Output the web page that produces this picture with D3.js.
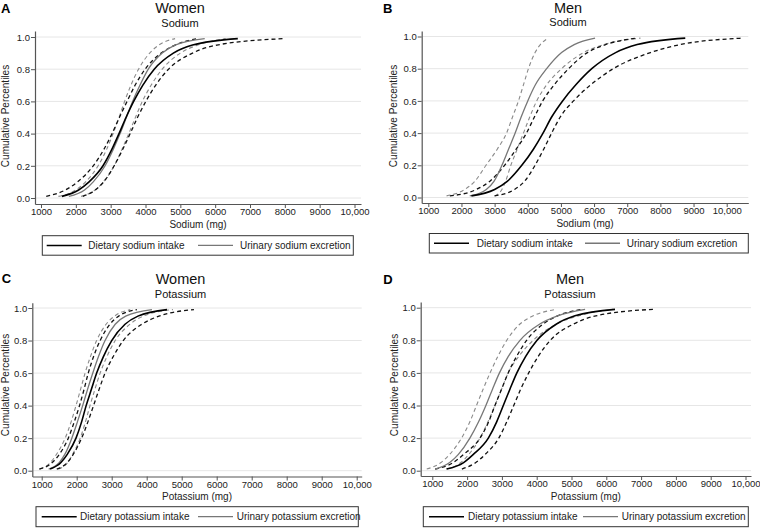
<!DOCTYPE html>
<html><head><meta charset="utf-8">
<script src="https://cdn.jsdelivr.net/npm/d3@7"></script>
<style>
html,body{margin:0;padding:0;background:#fff;}
svg{display:block;font-family:Arial,"Liberation Sans",Helvetica,sans-serif;}
</style></head>
<body><svg id="c" width="760" height="528"></svg>
<script>
// ---------- data ----------
const percentiles = [0.01,0.05,0.1,0.2,0.3,0.4,0.5,0.6,0.7,0.8,0.9,0.95,0.99];
const yTicks = [0,0.2,0.4,0.6,0.8,1.0];
const yTickLabels = ["0.0","0.2","0.4","0.6","0.8","1.0"];
const xTicks = [1000,2000,3000,4000,5000,6000,7000,8000,9000,10000];
const xTickLabels = ["1000","2000","3000","4000","5000","6000","7000","8000","9000","10,000"];

// A: Women, sodium (mg)
const womenSodiumDiet   = [1600,2080,2380,2780,3030,3240,3440,3660,3920,4250,4800,5350,6650];
const womenSodiumDietLo = [1150,1700,2050,2500,2800,3040,3250,3470,3700,3990,4450,4850,5500];
const womenSodiumDietHi = [2200,2560,2800,3100,3340,3560,3770,4010,4290,4660,5350,6050,8000];
const womenSodiumUrin   = [1800,2250,2500,2840,3070,3270,3450,3630,3840,4080,4480,4850,5700];
const womenSodiumUrinLo = [1500,2000,2280,2640,2880,3070,3240,3400,3580,3800,4120,4380,4850];
const womenSodiumUrinHi = [2150,2550,2790,3100,3320,3520,3710,3910,4160,4480,5000,5500,6300];

// B: Men, sodium (mg)
const menSodiumDiet   = [2300,3000,3380,3820,4170,4460,4720,5050,5450,5930,6650,7300,8750];
const menSodiumDietLo = [1650,2450,2850,3300,3650,3960,4200,4450,4800,5230,5800,6350,7300];
const menSodiumDietHi = [3000,3600,3900,4220,4480,4720,4980,5380,5900,6580,7700,8600,10500];
const menSodiumUrin   = [2250,2750,2980,3220,3420,3620,3800,4000,4230,4570,5020,5400,6030];
const menSodiumUrinLo = [1550,2100,2400,2740,3080,3360,3540,3720,3870,4020,4220,4380,4620];
const menSodiumUrinHi = [3000,3220,3330,3490,3680,3870,4060,4270,4570,5020,5680,6300,7400];

// C: Women, potassium (mg)
const womenPotassiumDiet   = [1240,1550,1730,1980,2140,2270,2420,2570,2760,3000,3380,3750,4580];
const womenPotassiumDietLo = [930,1300,1500,1760,1930,2080,2210,2330,2480,2670,2950,3200,3720];
const womenPotassiumDietHi = [1430,1730,1900,2140,2320,2480,2640,2810,3040,3330,3860,4350,5350];
const womenPotassiumUrin   = [1200,1500,1660,1860,2020,2170,2310,2460,2620,2810,3100,3400,4150];
const womenPotassiumUrinLo = [950,1250,1420,1670,1840,1980,2110,2240,2390,2570,2840,3080,3530];
const womenPotassiumUrinHi = [1480,1740,1880,2100,2250,2380,2520,2670,2860,3100,3520,3900,4750];

// D: Men, potassium (mg)
const menPotassiumDiet   = [1410,1900,2180,2610,2850,3040,3230,3430,3680,4010,4570,5100,6250];
const menPotassiumDietLo = [1080,1600,1900,2370,2620,2800,2990,3180,3420,3710,4190,4600,5300];
const menPotassiumDietHi = [1850,2250,2520,2910,3140,3340,3540,3770,4040,4390,5060,5700,7350];
const menPotassiumUrin   = [1080,1500,1750,2080,2330,2540,2730,2930,3180,3520,4090,4600,5390];
const menPotassiumUrinLo = [840,1250,1500,1840,2080,2270,2460,2660,2880,3140,3520,3900,4570];
const menPotassiumUrinHi = [1410,1820,2050,2370,2600,2800,2990,3180,3480,3900,4570,5200,6200];

const panelLetters = ["A","B","C","D"];
const panelTitles = ["Women","Men","Women","Men"];
const panelSubtitles = ["Sodium","Sodium","Potassium","Potassium"];
const xTitles = ["Sodium (mg)","Sodium (mg)","Potassium (mg)","Potassium (mg)"];
const legendDiet = ["Dietary sodium intake","Dietary sodium intake","Dietary potassium intake","Dietary potassium intake"];
const legendUrin = ["Urinary sodium excretion","Urinary sodium excretion","Urinary potassium excretion","Urinary potassium excretion"];
const yTitle = "Cumulative Percentiles";

const panelData = [
  {diet:womenSodiumDiet, dietLo:womenSodiumDietLo, dietHi:womenSodiumDietHi, urin:womenSodiumUrin, urinLo:womenSodiumUrinLo, urinHi:womenSodiumUrinHi},
  {diet:menSodiumDiet, dietLo:menSodiumDietLo, dietHi:menSodiumDietHi, urin:menSodiumUrin, urinLo:menSodiumUrinLo, urinHi:menSodiumUrinHi},
  {diet:womenPotassiumDiet, dietLo:womenPotassiumDietLo, dietHi:womenPotassiumDietHi, urin:womenPotassiumUrin, urinLo:womenPotassiumUrinLo, urinHi:womenPotassiumUrinHi},
  {diet:menPotassiumDiet, dietLo:menPotassiumDietLo, dietHi:menPotassiumDietHi, urin:menPotassiumUrin, urinLo:menPotassiumUrinLo, urinHi:menPotassiumUrinHi}
];

// ---------- layout ----------
const layout = [
  {t1:41,   t10:354.5, x0:35,    x1:361,   axY:204,   py1:37,    py0:198,   yTop:31,
   letterX:1, letterY:13.3, titleX:180, titleY:13, subY:26.5, yLabX:9, yLabY:116,
   leg:{x:42.3, y:235.7, w:311, h:19.5, l1:46.7, t1:88.3, l2:198, t2:240}},
  {t1:428.3, t10:726.7, x0:421.7, x1:748.3, axY:203, py1:36.5, py0:197.5, yTop:31,
   letterX:383, letterY:13.3, titleX:568, titleY:12.5, subY:26, yLabX:397, yLabY:116,
   leg:{x:429.3, y:233.5, w:319, h:19.5, l1:434, t1:476.7, l2:585, t2:626.7}},
  {t1:41.7, t10:356.7, x0:32.3,  x1:361.7, axY:476.5, py1:308,   py0:470.7, yTop:302.7,
   letterX:1.7, letterY:282.7, titleX:180.5, titleY:284, subY:298.4, yLabX:9, yLabY:385,
   leg:{x:36, y:506.7, w:322.3, h:20, l1:41.7, t1:80, l2:198, t2:236.7}},
  {t1:432.3, t10:745.5, x0:420.7, x1:751,  axY:476,   py1:307.7, py0:470.7, yTop:302,
   letterX:383.3, letterY:284, titleX:570, titleY:284, subY:298.2, yLabX:397.5, yLabY:385,
   leg:{x:423.3, y:506.7, w:325, h:20, l1:429, t1:468, l2:583, t2:621.7}}
];

const svg = d3.select("#c");

layout.forEach((L, i) => {
  const g = svg.append("g");
  const d = panelData[i];

  const base = d3.scaleLinear().domain([1000,10000]).range([L.t1, L.t10]);
  const x = d3.scaleLinear().domain([base.invert(L.x0), base.invert(L.x1)]).range([L.x0, L.x1]);
  const yb = d3.scaleLinear().domain([0,1]).range([L.py0, L.py1]);
  const y = d3.scaleLinear().domain([yb.invert(L.axY), yb.invert(L.yTop)]).range([L.axY, L.yTop]);

  // gridlines
  g.append("g").selectAll("line").data(yTicks).join("line")
    .attr("x1", L.x0 + 1).attr("x2", L.x1)
    .attr("y1", v => y(v)).attr("y2", v => y(v))
    .attr("stroke", "#e6e6e6").attr("stroke-width", 1);

  // axes
  const xAxis = d3.axisBottom(x).tickValues(xTicks).tickSize(4).tickSizeOuter(0)
    .tickFormat((v, k) => xTickLabels[k]);
  const gx = g.append("g").attr("transform", `translate(0,${L.axY})`).call(xAxis);
  const yAxis = d3.axisLeft(y).tickValues(yTicks).tickSize(4).tickSizeOuter(0)
    .tickFormat((v, k) => yTickLabels[k]);
  const gy = g.append("g").attr("transform", `translate(${L.x0},0)`).call(yAxis);
  [gx, gy].forEach(a => {
    a.select(".domain").attr("stroke", "#555").attr("stroke-width", 1.2);
    a.selectAll(".tick line").attr("stroke", "#555");
    a.selectAll(".tick text").attr("fill", "#222").style("font-size", "9.5px")
      .style("font-family", "Arial, 'Liberation Sans', sans-serif");
  });
  gx.selectAll(".tick text").attr("y", 4.5).attr("dy", "0.71em");
  gy.selectAll(".tick text").attr("x", -5).attr("dy", "0.34em");

  // axis titles
  g.append("text").attr("x", (L.x0 + L.x1) / 2).attr("y", L.axY + 23.5)
    .attr("text-anchor", "middle").style("font-size", "10px").attr("fill", "#222")
    .text(xTitles[i]);
  g.append("text").attr("transform", `translate(${L.yLabX},${L.yLabY}) rotate(-90)`)
    .attr("text-anchor", "middle").style("font-size", "10px").attr("fill", "#222")
    .text(yTitle);

  // titles
  g.append("text").attr("x", L.letterX).attr("y", L.letterY)
    .style("font-size", "13px").style("font-weight", "bold").attr("fill", "#000")
    .text(panelLetters[i]);
  g.append("text").attr("x", L.titleX).attr("y", L.titleY).attr("text-anchor", "middle")
    .style("font-size", "14.5px").attr("fill", "#111").text(panelTitles[i]);
  g.append("text").attr("x", L.titleX).attr("y", L.subY).attr("text-anchor", "middle")
    .style("font-size", "11px").attr("fill", "#111").text(panelSubtitles[i]);

  // curves
  const line = d3.line().x(p => x(p[0])).y(p => y(p[1])).curve(d3.curveMonotoneX);
  const pts = arr => arr.map((v, k) => [v, percentiles[k]]);
  const series = [
    {v: d.urinLo, stroke: "#8a8a8a", w: 1.1, dash: "4,3"},
    {v: d.urinHi, stroke: "#8a8a8a", w: 1.1, dash: "4,3"},
    {v: d.dietLo, stroke: "#111", w: 1.3, dash: "4,3"},
    {v: d.dietHi, stroke: "#111", w: 1.3, dash: "4,3"},
    {v: d.urin, stroke: "#777", w: 1.3, dash: null},
    {v: d.diet, stroke: "#000", w: 1.6, dash: null}
  ];
  g.append("g").selectAll("path").data(series).join("path")
    .attr("d", s => line(pts(s.v)))
    .attr("fill", "none")
    .attr("stroke", s => s.stroke)
    .attr("stroke-width", s => s.w)
    .attr("stroke-dasharray", s => s.dash);

  // legend
  const lg = L.leg;
  const cy = lg.y + lg.h / 2;
  g.append("rect").attr("x", lg.x).attr("y", lg.y).attr("width", lg.w).attr("height", lg.h)
    .attr("fill", "#fff").attr("stroke", "#333").attr("stroke-width", 1);
  g.append("line").attr("x1", lg.l1).attr("x2", lg.l1 + 35).attr("y1", cy).attr("y2", cy)
    .attr("stroke", "#000").attr("stroke-width", 1.6);
  g.append("text").attr("x", lg.t1).attr("y", cy + 3.5).style("font-size", "10px")
    .attr("fill", "#222").text(legendDiet[i]);
  g.append("line").attr("x1", lg.l2).attr("x2", lg.l2 + 35).attr("y1", cy).attr("y2", cy)
    .attr("stroke", "#777").attr("stroke-width", 1.3);
  g.append("text").attr("x", lg.t2).attr("y", cy + 3.5).style("font-size", "10px")
    .attr("fill", "#222").text(legendUrin[i]);
});
</script>
</body></html>
